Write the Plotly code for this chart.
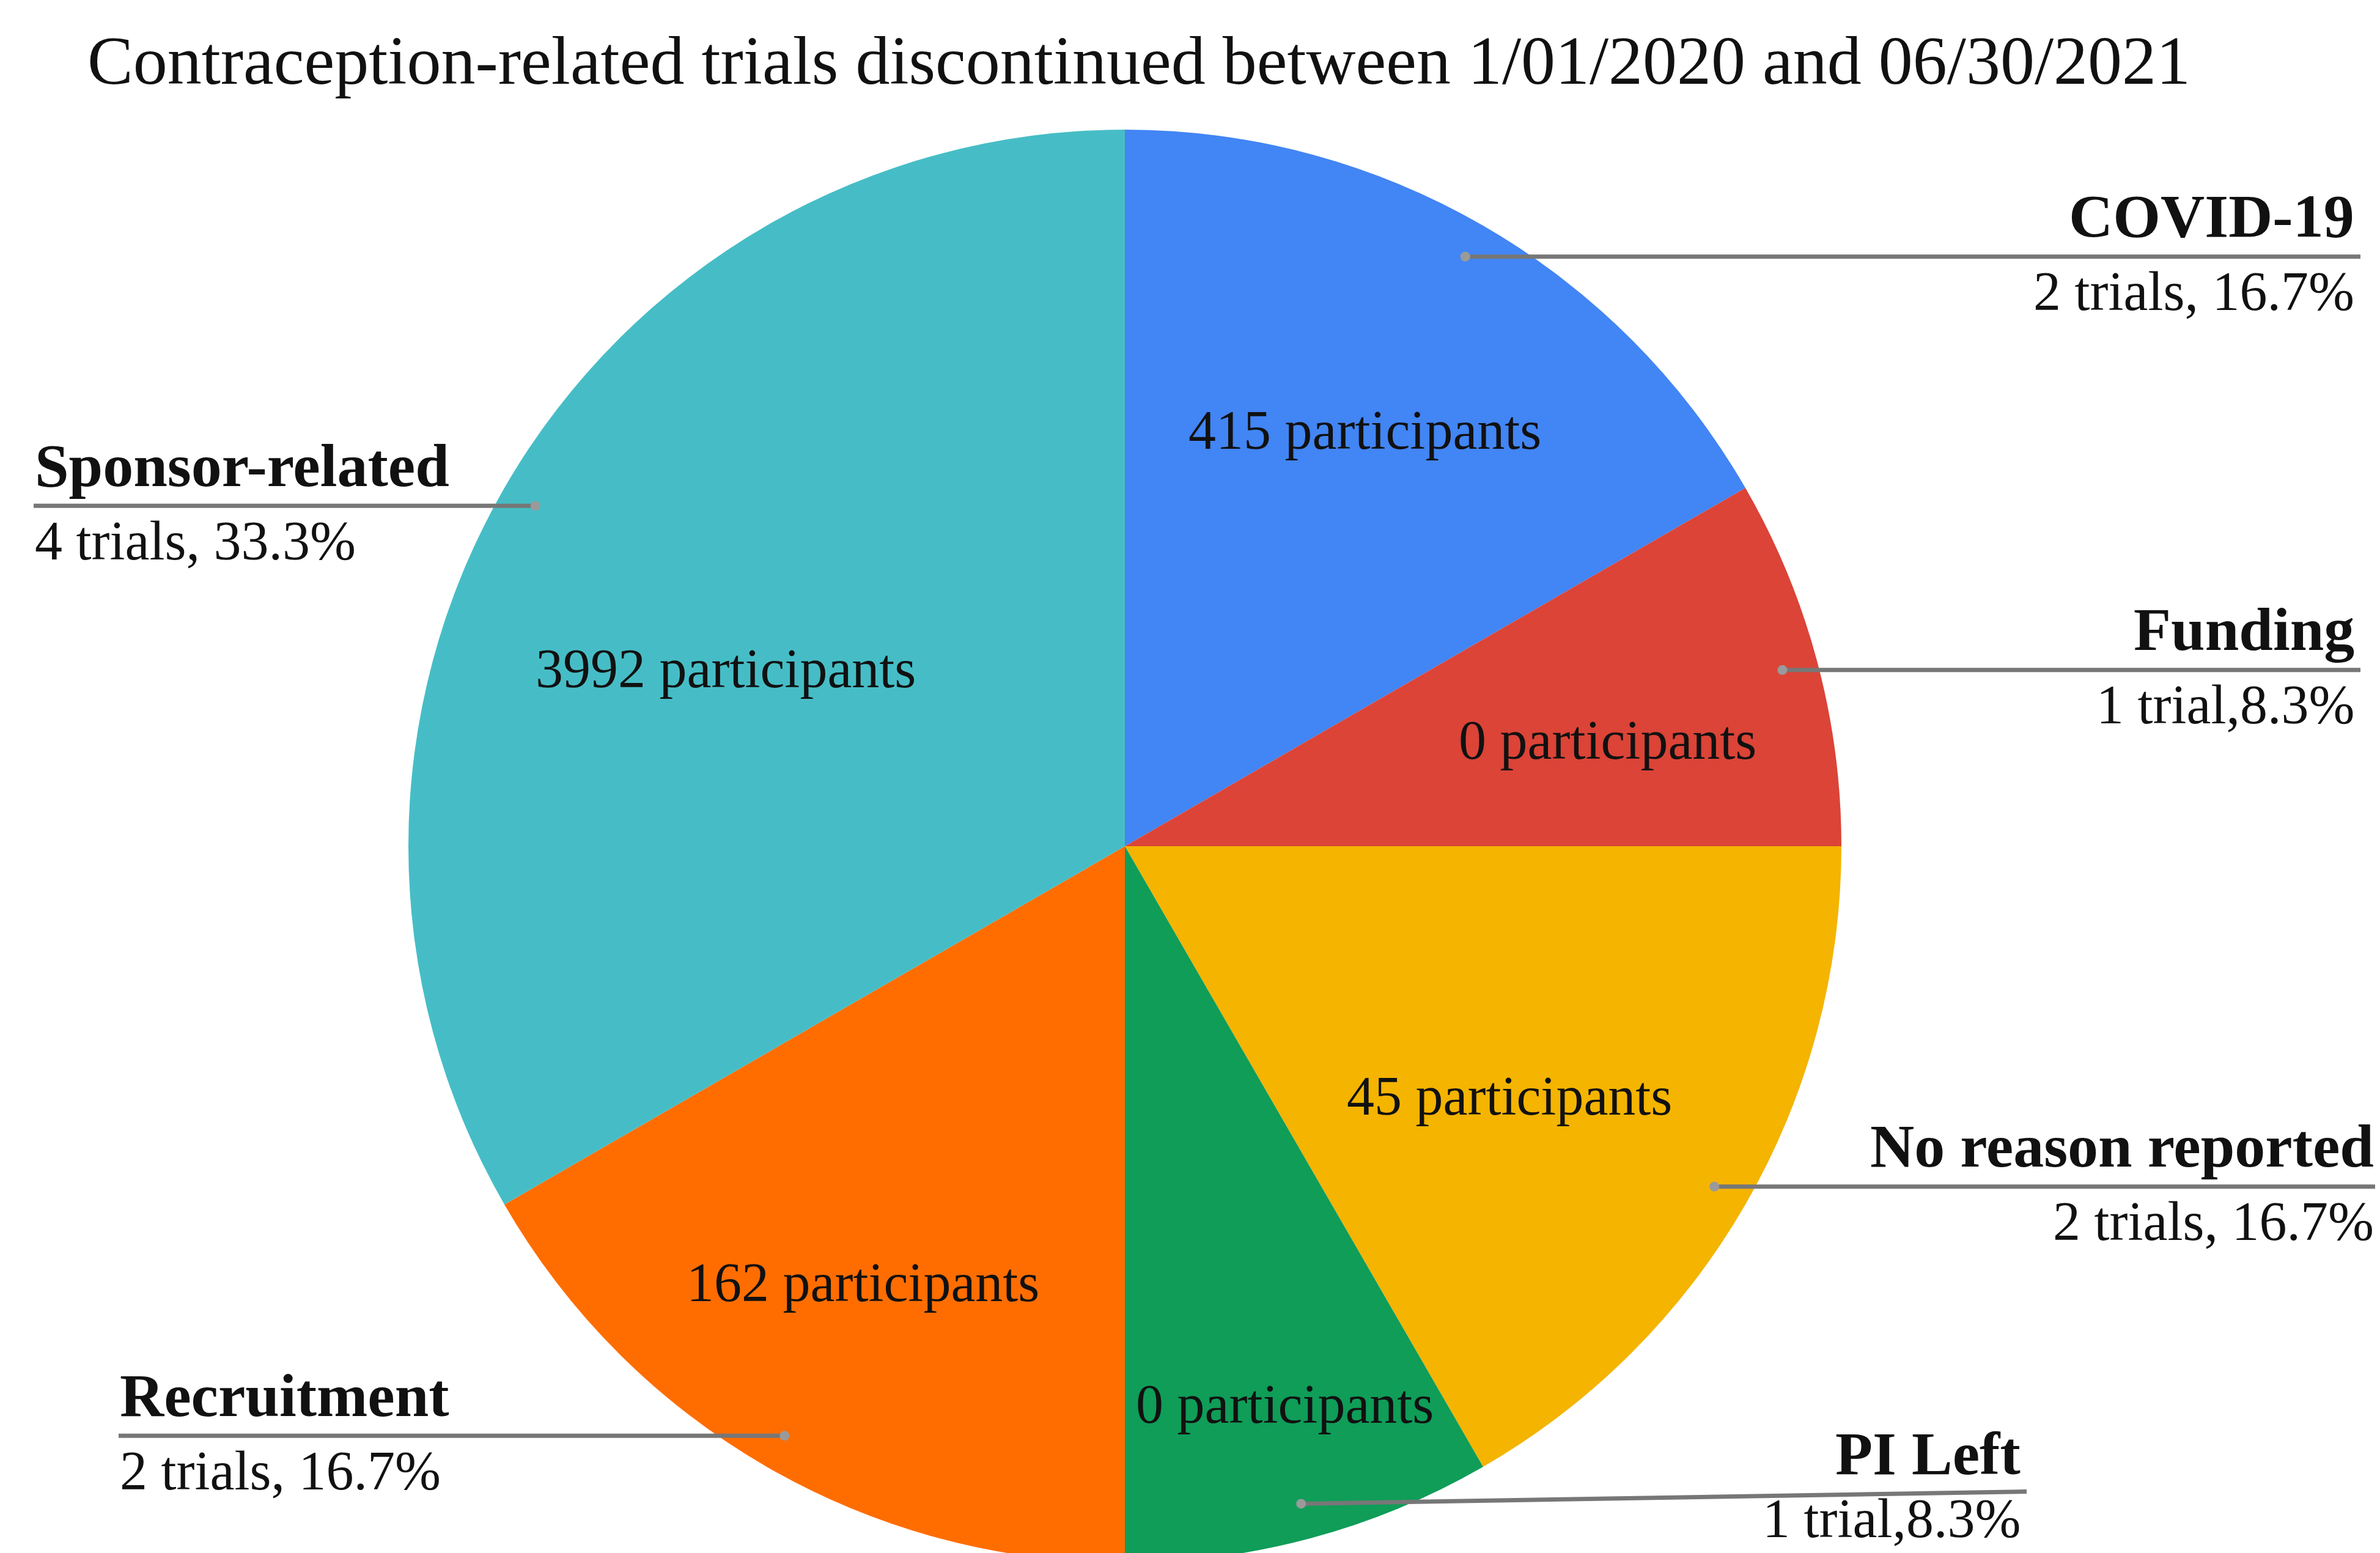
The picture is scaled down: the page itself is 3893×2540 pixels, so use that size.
import math
import plotly.graph_objects as go

# ---------------- data ----------------
categories = ["COVID-19", "Funding", "No reason reported", "PI Left", "Recruitment", "Sponsor-related"]
trials = [2, 1, 2, 1, 2, 4]
participants = [415, 0, 45, 0, 162, 3992]
trial_labels = ["2 trials, 16.7%", "1 trial,8.3%", "2 trials, 16.7%", "1 trial,8.3%",
                "2 trials, 16.7%", "4 trials, 33.3%"]
title_text = "Contraception-related trials discontinued between 1/01/2020 and 06/30/2021"

# ---------------- style ----------------
colors = ["#4285F4", "#DB4437", "#F4B400", "#0F9D58", "#FF6D00", "#46BDC6"]
W, H = 3893, 2560
OFF = 8                                # page offset of the plot div
CX, CY, R = 1840, 1384, 1172          # pie centre / radius in screen pixels
FONT = "Liberation Serif"
inner_r = [0.67, 0.69, 0.64, 0.81, 0.71, 0.61]     # radial position of participant text
inner_da = [0, 2.6, 3, -1, 1, -6]                  # angular nudge (deg)
side = ["right", "right", "right", "right", "left", "left"]
line_end_x = [3861, 3861, 3893, 3315, 194, 55]
line_end_dy = [0, 0, 0, -20, 0, 0]
head_off = [-66, -66, -66, -62, -66, -66]
sub_off = [57, 57, 57, 44, 57, 57]
dot_r_frac = 0.95


def px(x):
    return (x - OFF) / W


def py(y):
    return 1 - (y - OFF) / H


total = sum(trials)
mids = []
cum = 0
for v in trials:
    mids.append((cum + v / 2) / total * 360.0)
    cum += v


def polar(theta_deg, r):
    t = math.radians(theta_deg)
    return CX + r * math.sin(t), CY - r * math.cos(t)


fig = go.Figure()
fig.add_trace(go.Pie(
    labels=categories,
    values=trials,
    sort=False,
    direction="clockwise",
    rotation=0,
    marker=dict(colors=colors, line=dict(width=0)),
    textinfo="none",
    hoverinfo="label+value",
    showlegend=False,
    domain=dict(x=[px(CX - R), px(CX + R)], y=[max(0, py(CY + R)), py(CY - R)]),
))

annotations = []
shapes = []

# title
annotations.append(dict(
    x=px(141), y=py(99), xref="paper", yref="paper", xanchor="left", yanchor="middle",
    text=title_text, showarrow=False, font=dict(family=FONT, size=112, color="#111111"),
))

for i, cat in enumerate(categories):
    # participants text inside slice
    tx, ty = polar(mids[i] + inner_da[i], inner_r[i] * R)
    annotations.append(dict(
        x=px(tx), y=py(ty), xref="paper", yref="paper", xanchor="center", yanchor="middle",
        text=f"{participants[i]} participants", showarrow=False,
        font=dict(family=FONT, size=90, color="#111111"),
    ))
    # leader line
    dx, dy = polar(mids[i], dot_r_frac * R)
    ex, ey = line_end_x[i], dy + line_end_dy[i]
    shapes.append(dict(type="line", xref="paper", yref="paper",
                       x0=px(dx), y0=py(dy), x1=px(ex), y1=py(ey),
                       line=dict(color="#777777", width=7)))
    rr = 8
    shapes.append(dict(type="circle", xref="paper", yref="paper",
                       x0=px(dx - rr), x1=px(dx + rr), y0=py(dy + rr), y1=py(dy - rr),
                       fillcolor="#9a9a9a", line=dict(width=0)))
    if side[i] == "right":
        lx, anchor = ex - 8, "right"
    else:
        lx, anchor = ex, "left"
    annotations.append(dict(
        x=px(lx), y=py(ey + head_off[i]), xref="paper", yref="paper", xanchor=anchor,
        yanchor="middle", text=f"<b>{cat}</b>", showarrow=False, align=anchor,
        font=dict(family=FONT, size=100, color="#111111"),
    ))
    annotations.append(dict(
        x=px(lx), y=py(ey + sub_off[i]), xref="paper", yref="paper", xanchor=anchor,
        yanchor="middle", text=trial_labels[i], showarrow=False, align=anchor,
        font=dict(family=FONT, size=90, color="#111111"),
    ))

fig.update_layout(
    width=W, height=H,
    margin=dict(l=0, r=0, t=0, b=0),
    paper_bgcolor="white", plot_bgcolor="white",
    annotations=annotations, shapes=shapes,
    showlegend=False,
)

fig.write_html("out.html")
